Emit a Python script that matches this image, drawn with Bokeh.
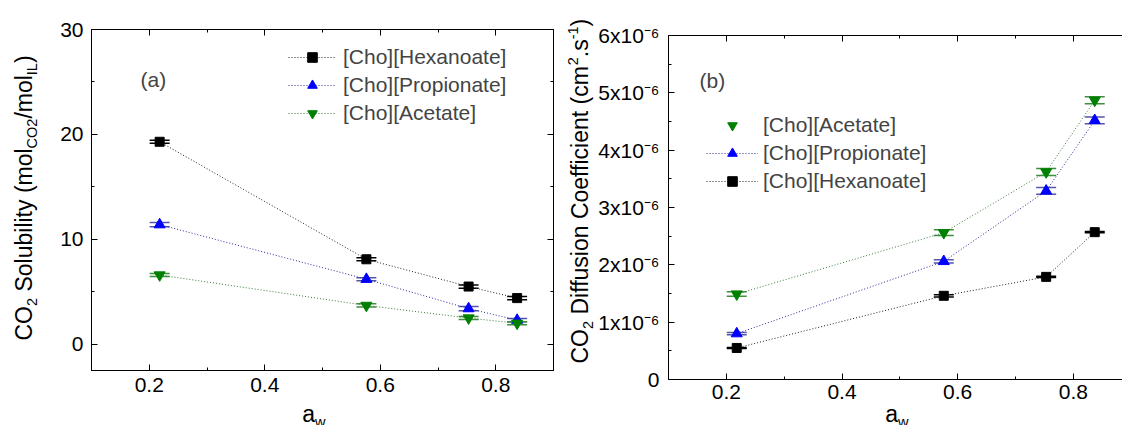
import math
import numpy as np
from bokeh.plotting import figure
from bokeh.models import (ColumnDataSource, Whisker, TeeHead, Legend, LegendItem,
                          Label, FixedTicker, LinearAxis, Range1d)
from bokeh.layouts import row, column
from bokeh.embed import file_html
from bokeh.resources import INLINE

# ---------------- data ----------------
aw = [0.218, 0.576, 0.753, 0.837]

sol_hex = [19.3, 8.1, 5.5, 4.4]
sol_prop = [11.4, 6.2, 3.4, 2.3]
sol_ace = [6.6, 3.7, 2.5, 2.0]
sol_err_hex = [0.15, 0.15, 0.15, 0.15]
sol_err_prop = [0.2, 0.15, 0.2, 0.15]
sol_err_ace = [0.15, 0.15, 0.15, 0.15]

diff_ace = [1.49e-6, 2.56e-6, 3.62e-6, 4.87e-6]
diff_prop = [0.80e-6, 2.06e-6, 3.29e-6, 4.52e-6]
diff_hex = [0.55e-6, 1.46e-6, 1.79e-6, 2.57e-6]
diff_err_ace = [0.04e-6, 0.05e-6, 0.06e-6, 0.06e-6]
diff_err_prop = [0.02e-6, 0.03e-6, 0.06e-6, 0.06e-6]
diff_err_hex = [0.01e-6, 0.02e-6, 0.01e-6, 0.01e-6]

x_ticks = [0.2, 0.4, 0.6, 0.8]
x_minor = [0.1, 0.3, 0.5, 0.7, 0.9]
x_tick_labels = ["0.2", "0.4", "0.6", "0.8"]
sol_ticks = [0, 10, 20, 30]
sol_minor = [5, 15, 25]
sol_tick_labels = ["0", "10", "20", "30"]
diff_ticks = [0, 1e-6, 2e-6, 3e-6, 4e-6, 5e-6, 6e-6]
diff_minor = [0.5e-6, 1.5e-6, 2.5e-6, 3.5e-6, 4.5e-6, 5.5e-6]
diff_tick_labels = ["0", "1x10\u207b\u2076", "2x10\u207b\u2076", "3x10\u207b\u2076",
                    "4x10\u207b\u2076", "5x10\u207b\u2076", "6x10\u207b\u2076"]

names = ["[Cho][Hexanoate]", "[Cho][Propionate]", "[Cho][Acetate]"]
colors = {"hex": "#000000", "prop": "#0000ff", "ace": "#008000"}
line_colors = {"hex": "#222222", "prop": "#2a2a99", "ace": "#3a7a3a"}
cap_colors = {"hex": "#000000", "prop": "#5555aa", "ace": "#3f8f3f"}

FONT = "Liberation Sans"
TICK_FS = "21px"
TITLE_F = 23.0
SUB_F = 14.5
BASE_FIX = 8.0   # empirical offset of Bokeh's alphabetic baseline

# Arial/Liberation Sans advance widths (per 1000 em)
ADV = {' ': 278, 'C': 722, 'O': 778, '2': 556, 'S': 667, 'o': 556, 'l': 222, 'u': 556,
       'b': 556, 'i': 222, 't': 278, 'y': 500, '(': 333, ')': 333, 'm': 833, '/': 278,
       'I': 278, 'L': 556, 'D': 722, 'f': 278, 's': 500, 'n': 556, 'e': 556, 'c': 500,
       '.': 278, '-': 333, '1': 556, 'a': 556, 'w': 722}


def text_w(t, size):
    return sum(ADV.get(ch, 556) for ch in t) * size / 1000.0


def strip(width, height, bl=0, br=0, xr=None):
    s = figure(width=width, height=height,
               x_range=xr if xr is not None else Range1d(0, width),
               y_range=Range1d(0, height), output_backend="svg", toolbar_location=None,
               x_axis_location=None, y_axis_location=None, min_border=0,
               min_border_left=bl, min_border_right=br, min_border_top=0,
               min_border_bottom=0, outline_line_color=None,
               background_fill_color="white", border_fill_color="white")
    s.xgrid.visible = False
    s.ygrid.visible = False
    return s


def add_rich_vertical(p, pieces, x0, y0):
    d = 0.0
    for txt, kind in pieces:
        size = TITLE_F if kind == "n" else SUB_F
        lead = len(txt) - len(txt.lstrip(" "))
        d += text_w(" " * lead, size)
        body = txt.strip(" ")
        dx = 0.0
        if kind == "sub":
            dx = 0.22 * TITLE_F
        elif kind == "sup":
            dx = -0.40 * TITLE_F
        p.add_layout(Label(x=x0 - BASE_FIX * size / TITLE_F + dx, y=y0 + d,
                           x_units="screen", y_units="screen",
                           text=body, angle=math.pi / 2, text_align="left",
                           text_baseline="alphabetic", text_font=FONT,
                           text_font_size=f"{size}px", text_color="#000000"))
        d += text_w(txt.lstrip(" "), size)


def add_rich_horizontal(p, pieces, xc, y0):
    total = sum(text_w(t, TITLE_F if k == "n" else SUB_F) for t, k in pieces)
    off = -total / 2.0
    for txt, kind in pieces:
        size = TITLE_F if kind == "n" else SUB_F
        dy = -0.22 * TITLE_F if kind == "sub" else 0.0
        p.add_layout(Label(x=xc, y=y0 + BASE_FIX * size / TITLE_F + dy,
                           x_units="data", y_units="screen", x_offset=off,
                           text=txt, text_align="left",
                           text_baseline="alphabetic", text_font=FONT,
                           text_font_size=f"{size}px", text_color="#000000"))
        off += text_w(txt, size)


def style_axis(ax, major, minor, labels=None, show_labels=True, standoff=7):
    ax.ticker = FixedTicker(ticks=major, minor_ticks=minor)
    ax.axis_line_color = "#000000"
    ax.axis_line_width = 1
    ax.major_tick_line_color = "#000000"
    ax.minor_tick_line_color = "#000000"
    ax.major_tick_in = 6
    ax.major_tick_out = 0
    ax.minor_tick_in = 3
    ax.minor_tick_out = 0
    ax.major_label_standoff = standoff
    ax.major_label_text_font = FONT
    ax.major_label_text_font_size = TICK_FS
    ax.major_label_text_color = "#000000"
    if labels is not None:
        ax.major_label_overrides = dict(zip(major, labels))
    if not show_labels:
        ax.major_label_text_color = None
        ax.major_label_text_font_size = "1px"
        ax.major_label_standoff = 0


def base_fig(width, height, bl, br, bt, bb, xr, yr):
    p = figure(width=width, height=height, x_range=xr, y_range=yr, output_backend="svg",
               toolbar_location=None, min_border_left=bl, min_border_right=br,
               min_border_top=bt, min_border_bottom=bb, background_fill_color="white",
               border_fill_color="white")
    p.xgrid.visible = False
    p.ygrid.visible = False
    return p


def add_series(p, x, y, err, key, marker, size):
    src = ColumnDataSource(dict(x=x, y=y, lo=np.array(y) - np.array(err),
                                hi=np.array(y) + np.array(err)))
    ln = p.line("x", "y", source=src, line_color=line_colors[key], line_width=1,
                line_dash="1 2")
    w = Whisker(base="x", upper="hi", lower="lo", source=src, line_color=cap_colors[key],
                line_width=1.2,
                upper_head=TeeHead(size=20, line_color=cap_colors[key], line_width=1.5),
                lower_head=TeeHead(size=20, line_color=cap_colors[key], line_width=1.5))
    p.add_layout(w)
    sc = p.scatter("x", "y", source=src, marker=marker, size=size,
                   fill_color=colors[key], line_color=colors[key])
    return ln, sc


# ---------------- panel (a) ----------------
xr_a = Range1d(0.1, 0.9)
ya = strip(40, 425)
pa = base_fig(520, 405, 51, 7, 29, 35, xr_a, Range1d(-2.5, 30))
xa = strip(520, 20, bl=51, br=7, xr=xr_a)

pa.outline_line_color = "#000000"
style_axis(pa.xaxis[0], x_ticks, x_minor, x_tick_labels, standoff=7)
style_axis(pa.yaxis[0], sol_ticks, sol_minor, sol_tick_labels, standoff=8)
top_a = LinearAxis()
right_a = LinearAxis()
pa.add_layout(top_a, "above")
pa.add_layout(right_a, "right")
style_axis(top_a, x_ticks, x_minor, show_labels=False)
style_axis(right_a, sol_ticks, sol_minor, show_labels=False)

ra_hex = add_series(pa, aw, sol_hex, sol_err_hex, "hex", "square", 9)
ra_prop = add_series(pa, aw, sol_prop, sol_err_prop, "prop", "triangle", 11)
ra_ace = add_series(pa, aw, sol_ace, sol_err_ace, "ace", "inverted_triangle", 11)

leg_a = Legend(items=[LegendItem(label=names[0], renderers=list(ra_hex)),
                      LegendItem(label=names[1], renderers=list(ra_prop)),
                      LegendItem(label=names[2], renderers=list(ra_ace))],
               location=(197, 245), orientation="vertical", glyph_width=48,
               glyph_height=24, label_height=24, spacing=4, padding=0, margin=0,
               label_standoff=7, border_line_color=None, background_fill_alpha=0,
               label_text_font=FONT, label_text_font_size="21px")
pa.add_layout(leg_a, "center")

pa.add_layout(Label(x=49, y=291, x_units="screen", y_units="screen", text="(a)",
                    text_font=FONT, text_font_size="21px", text_baseline="middle",
                    text_align="left"))
add_rich_vertical(ya, [("CO", "n"), ("2", "sub"), (" Solubility (mol", "n"),
                       ("CO2", "sub"), ("/mol", "n"), ("IL", "sub"), (")", "n")],
                  31, 85)
add_rich_horizontal(xa, [("a", "n"), ("w", "sub")], 0.485, 4)

# ---------------- panel (b) ----------------
xr_b = Range1d(0.1, 0.885)
yb = strip(35, 425)
pb = base_fig(527, 408, 71, 0, 35, 29, xr_b, Range1d(0, 6e-6))
xb = strip(527, 17, bl=71, br=0, xr=xr_b)

pb.outline_line_color = None
style_axis(pb.xaxis[0], x_ticks, x_minor, x_tick_labels, standoff=5)
style_axis(pb.yaxis[0], diff_ticks, diff_minor, diff_tick_labels, standoff=9)
top_b = LinearAxis()
pb.add_layout(top_b, "above")
style_axis(top_b, x_ticks, x_minor, show_labels=False)

rb_hex = add_series(pb, aw, diff_hex, diff_err_hex, "hex", "square", 9)
rb_prop = add_series(pb, aw, diff_prop, diff_err_prop, "prop", "triangle", 11)
rb_ace = add_series(pb, aw, diff_ace, diff_err_ace, "ace", "inverted_triangle", 11)

leg_b = Legend(items=[LegendItem(label=names[2], renderers=[rb_ace[1]]),
                      LegendItem(label=names[1], renderers=list(rb_prop)),
                      LegendItem(label=names[0], renderers=list(rb_hex))],
               location=(38, 186), orientation="vertical", glyph_width=52,
               glyph_height=24, label_height=24, spacing=4, padding=0, margin=0,
               label_standoff=5, border_line_color=None, background_fill_alpha=0,
               label_text_font=FONT, label_text_font_size="21px")
pb.add_layout(leg_b, "center")

pb.add_layout(Label(x=31, y=299, x_units="screen", y_units="screen", text="(b)",
                    text_font=FONT, text_font_size="21px", text_baseline="middle",
                    text_align="left"))
add_rich_vertical(yb, [("CO", "n"), ("2", "sub"), (" Diffusion Coefficient (cm", "n"),
                       ("2", "sup"), (".s", "n"), ("-1", "sup"), (")", "n")],
                  27, 62)
add_rich_horizontal(xb, [("a", "n"), ("w", "sub")], 0.495, 4)

layout = row(ya, column(pa, xa), yb, column(pb, xb))
open("out.html", "w").write(file_html(layout, INLINE))
